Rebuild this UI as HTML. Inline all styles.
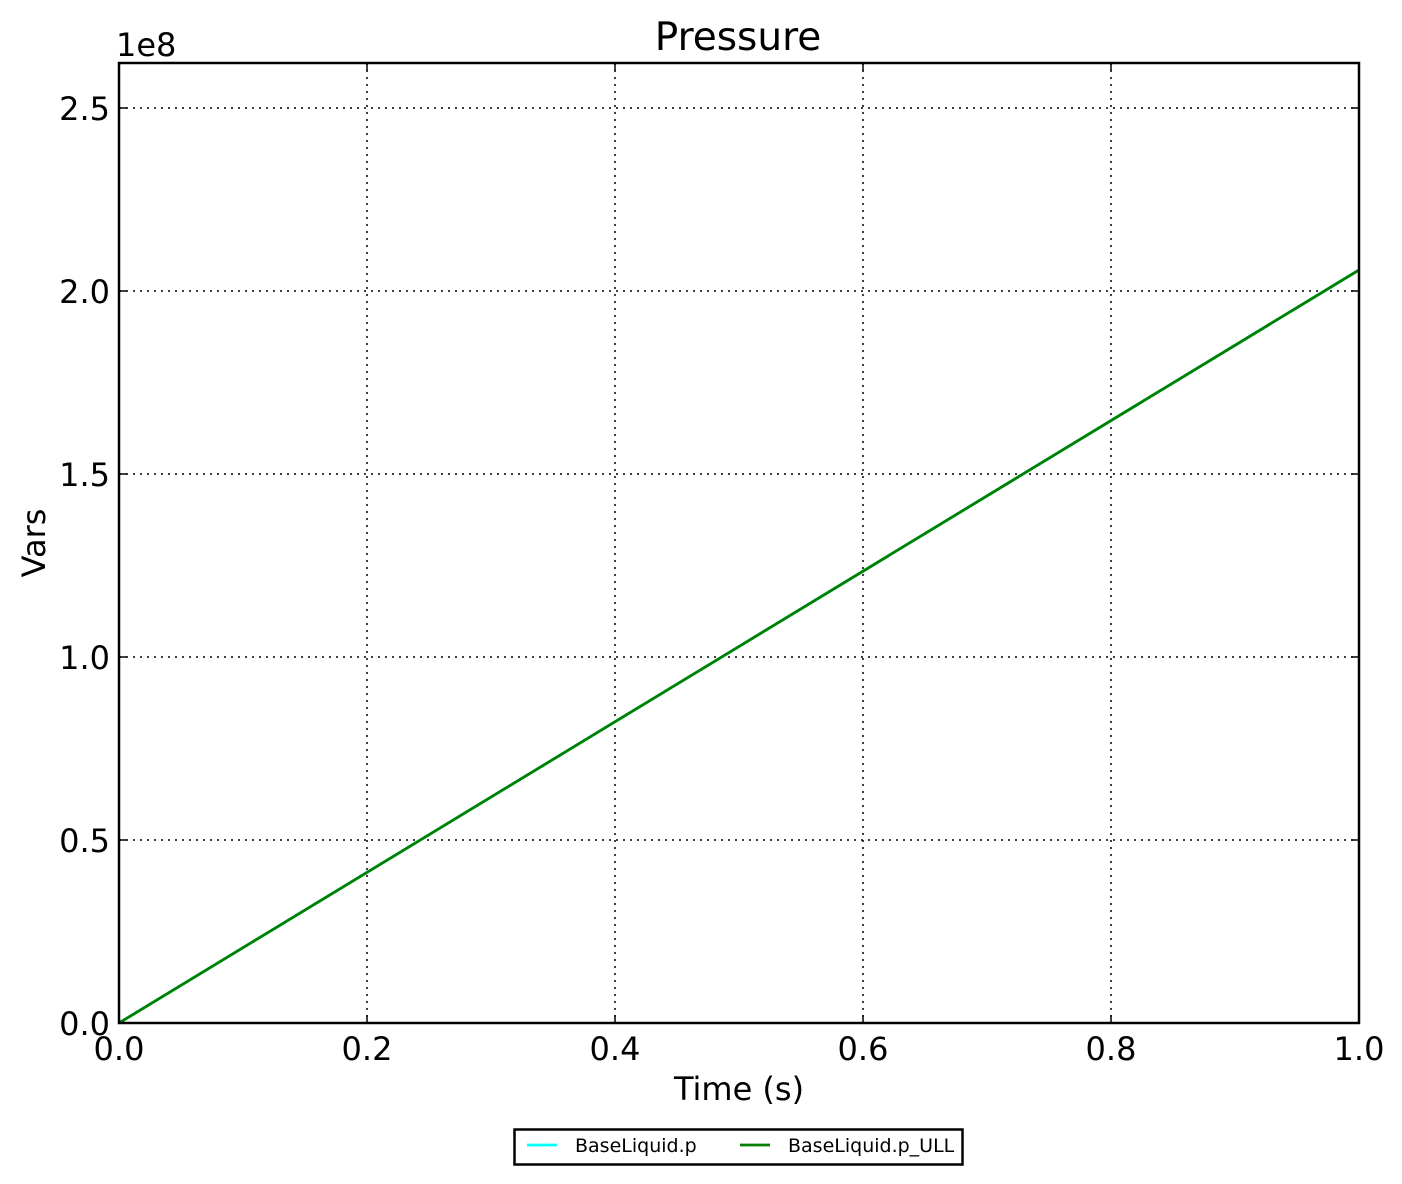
<!DOCTYPE html>
<html><head><meta charset="utf-8"><style>
html,body{margin:0;padding:0;background:#fff;}
svg{display:block;font-family:"DejaVu Sans","Liberation Sans",sans-serif;}
</style></head><body>
<svg width="1402" height="1184" viewBox="0 0 1402 1184" xmlns="http://www.w3.org/2000/svg">
<rect width="1402" height="1184" fill="#fff"/>
<g stroke="#000" stroke-width="1.5" stroke-dasharray="2,5" fill="none">
<line x1="367" y1="63" x2="367" y2="1023"/>
<line x1="615" y1="63" x2="615" y2="1023"/>
<line x1="863" y1="63" x2="863" y2="1023"/>
<line x1="1111" y1="63" x2="1111" y2="1023"/>
<line x1="119" y1="840" x2="1359" y2="840"/>
<line x1="119" y1="657" x2="1359" y2="657"/>
<line x1="119" y1="474" x2="1359" y2="474"/>
<line x1="119" y1="291" x2="1359" y2="291"/>
<line x1="119" y1="108" x2="1359" y2="108"/>
</g>
<g stroke="#000" stroke-width="1.5">
<line x1="367" y1="1023" x2="367" y2="1015"/><line x1="367" y1="63" x2="367" y2="71"/>
<line x1="615" y1="1023" x2="615" y2="1015"/><line x1="615" y1="63" x2="615" y2="71"/>
<line x1="863" y1="1023" x2="863" y2="1015"/><line x1="863" y1="63" x2="863" y2="71"/>
<line x1="1111" y1="1023" x2="1111" y2="1015"/><line x1="1111" y1="63" x2="1111" y2="71"/>
<line x1="119" y1="840" x2="127" y2="840"/><line x1="1359" y1="840" x2="1351" y2="840"/>
<line x1="119" y1="657" x2="127" y2="657"/><line x1="1359" y1="657" x2="1351" y2="657"/>
<line x1="119" y1="474" x2="127" y2="474"/><line x1="1359" y1="474" x2="1351" y2="474"/>
<line x1="119" y1="291" x2="127" y2="291"/><line x1="1359" y1="291" x2="1351" y2="291"/>
<line x1="119" y1="108" x2="127" y2="108"/><line x1="1359" y1="108" x2="1351" y2="108"/>
</g>
<line x1="119" y1="1023" x2="1359" y2="270" stroke="#00ffff" stroke-width="2.8"/>
<line x1="119" y1="1023" x2="1359" y2="270" stroke="#008000" stroke-width="2.8"/>
<rect x="119" y="63" width="1240" height="960" fill="none" stroke="#000" stroke-width="2.5"/>
<g font-size="32" fill="#000">
<g text-anchor="middle">
<text x="119" y="1060">0.0</text><text x="367" y="1060">0.2</text><text x="615" y="1060">0.4</text>
<text x="863" y="1060">0.6</text><text x="1111" y="1060">0.8</text><text x="1359" y="1060">1.0</text>
<text x="739" y="1100">Time (s)</text>
<text x="738" y="50" font-size="39">Pressure</text>
</g>
<g text-anchor="end">
<text x="110" y="1035">0.0</text><text x="110" y="852">0.5</text><text x="110" y="669">1.0</text>
<text x="110" y="486">1.5</text><text x="110" y="303">2.0</text><text x="110" y="120">2.5</text>
</g>
<text x="116" y="56">1e8</text>
<text transform="translate(45,543) rotate(-90)" text-anchor="middle">Vars</text>
</g>
<rect x="514.5" y="1129.5" width="448" height="35" fill="#fff" stroke="#000" stroke-width="2.5"/>
<line x1="527" y1="1145" x2="557" y2="1145" stroke="#00ffff" stroke-width="2.8"/>
<line x1="740" y1="1145" x2="770" y2="1145" stroke="#008000" stroke-width="2.8"/>
<g font-size="19" fill="#000">
<text x="575" y="1152">BaseLiquid.p</text>
<text x="788" y="1152">BaseLiquid.p_ULL</text>
</g>
</svg>
</body></html>
